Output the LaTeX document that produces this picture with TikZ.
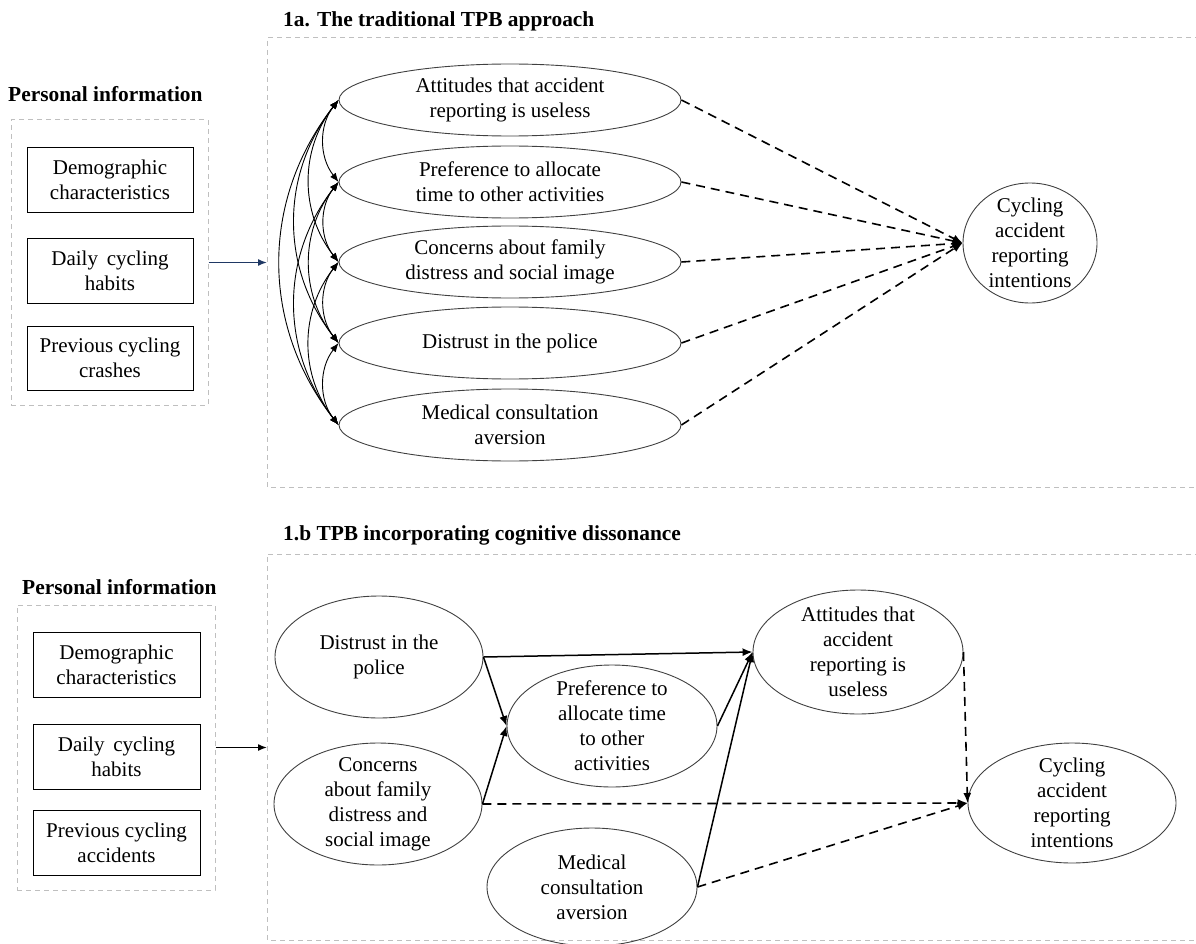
\documentclass[tikz,border=0pt]{standalone}
\usepackage{fontspec}
\setmainfont{Liberation Serif}
\usetikzlibrary{shapes.geometric,arrows.meta}

\definecolor{navyarrow}{RGB}{31,56,100}

\tikzset{
  txt/.style={font=\fontsize{21}{25}\selectfont, align=center},
  heading/.style={font=\fontsize{21.4}{25}\selectfont\bfseries, anchor=base west, inner sep=0pt},
  infobox/.style={draw, line width=1pt, minimum width=166pt, minimum height=65pt, inner sep=0pt, txt},
  infoframe/.style={draw=black!25, dash pattern=on 5pt off 4pt, line width=1pt},
  oval/.style={ellipse, draw=black!75, line width=0.9pt, inner sep=0pt},
  link/.style={line width=1.5pt, -{Latex[length=10pt,width=8pt]}},
  dashlink/.style={link, line width=1.6pt, dash pattern=on 9pt off 6pt},
  corr/.style={line width=0.9pt, {Latex[length=9pt,width=7pt]}-{Latex[length=9pt,width=7pt]}},
}

\begin{document}
\begin{tikzpicture}[x=1pt, y=-1pt]
    \useasboundingbox (0,0) rectangle (1196,944);

    \begin{scope}
      \node[heading] (titleA) at (283,27) {1a. The traditional TPB approach};
      \draw[infoframe] (1200,38) -| (267,487) -- (1200,487);

      \node[heading] (pinfoA) at (8,102) {Personal information};
      \node[infoframe, minimum width=197pt, minimum height=285pt] (pA) at (109.5,262.5) {};
      \node[infobox] (demoA) at (110,180) {Demographic\\characteristics};
      \node[infobox] (dailyA) at (110,271) {Daily\, cycling\\habits};
      \node[infobox, minimum height=64pt] (prevA) at (110,358) {Previous cycling\\crashes};
      \coordinate (inA) at (267,262.5);
      \draw[line width=1.4pt, draw=navyarrow, -{Latex[length=9pt,width=7pt]}] (pA.east) -- (inA);

      \node[oval, minimum width=342pt, minimum height=72pt,
        label={[txt]center:Attitudes that accident\\reporting is useless}] (attA) at (510,100) {};
      \node[oval, minimum width=342pt, minimum height=72pt,
        label={[txt]center:Preference to allocate\\time to other activities}] (prefA) at (510,182) {};
      \node[oval, minimum width=342pt, minimum height=72pt,
        label={[txt]center:Concerns about family\\distress and social image}] (concA) at (510,262) {};
      \node[oval, minimum width=342pt, minimum height=72pt,
        label={[txt]center:Distrust in the police}] (distA) at (510,343) {};
      \node[oval, minimum width=342pt, minimum height=72pt,
        label={[txt]center:Medical consultation\\aversion}] (medA) at (510,425) {};
      \node[oval, minimum width=134pt, minimum height=120pt,
        label={[txt]center:Cycling\\accident\\reporting\\intentions}] (cycA) at (1030,243) {};

      \draw[corr] (attA.west) to[bend right=38] (prefA.west);
      \draw[corr] (attA.west) to[bend right=38] (concA.west);
      \draw[corr] (attA.west) to[bend right=38] (distA.west);
      \draw[corr] (attA.west) to[bend right=38] (medA.west);
      \draw[corr] (prefA.west) to[bend right=38] (concA.west);
      \draw[corr] (prefA.west) to[bend right=38] (distA.west);
      \draw[corr] (prefA.west) to[bend right=38] (medA.west);
      \draw[corr] (concA.west) to[bend right=38] (distA.west);
      \draw[corr] (concA.west) to[bend right=38] (medA.west);
      \draw[corr] (distA.west) to[bend right=38] (medA.west);

      \draw[dashlink] (attA.east) -- (cycA.west);
      \draw[dashlink] (prefA.east) -- (cycA.west);
      \draw[dashlink] (concA.east) -- (cycA.west);
      \draw[dashlink] (distA.east) -- (cycA.west);
      \draw[dashlink] (medA.east) -- (cycA.west);
    \end{scope}

    \begin{scope}
      \node[heading] (titleB) at (283,540) {1.b TPB incorporating cognitive dissonance};
      \draw[infoframe] (1200,554) -| (267,940) -- (1200,940);

      \node[heading] (pinfoB) at (22,594) {Personal information};
      \node[infoframe, minimum width=198pt, minimum height=285pt] (pB) at (116,747.5) {};
      \node[infobox, minimum width=167pt] (demoB) at (116.5,664.5) {Demographic\\characteristics};
      \node[infobox, minimum width=167pt] (dailyB) at (116.5,756.5) {Daily\, cycling\\habits};
      \node[infobox, minimum width=167pt] (prevB) at (116.5,842.5) {Previous cycling\\accidents};
      \coordinate (inB) at (267,747.5);
      \draw[line width=1.4pt, -{Latex[length=9pt,width=7pt]}] (pB.east) -- (inB);

      \node[oval, minimum width=208pt, minimum height=122pt,
        label={[txt]center:Distrust in the\\police}] (distB) at (379,657) {};
      \node[oval, minimum width=208pt, minimum height=122pt,
        label={[txt]center:Concerns\\about family\\distress and\\social image}] (concB) at (378,804) {};
      \node[oval, minimum width=210pt, minimum height=122pt,
        label={[txt]center:Preference to\\allocate time\\to other\\activities}] (prefB) at (612,726) {};
      \node[oval, minimum width=210pt, minimum height=118pt,
        label={[txt]center:Medical\\consultation\\aversion}] (medB) at (592,887) {};
      \node[oval, minimum width=210pt, minimum height=124pt,
        label={[txt]center:Attitudes that\\accident\\reporting is\\useless}] (attB) at (858,652) {};
      \node[oval, minimum width=208pt, minimum height=120pt,
        label={[txt]center:Cycling\\accident\\reporting\\intentions}] (cycB) at (1072,803) {};

      \draw[link] (distB.east) -- (attB.west);
      \draw[link] (distB.east) -- (prefB.west);
      \draw[link] (concB.east) -- (prefB.west);
      \draw[link] (prefB.east) -- (attB.west);
      \draw[link] (medB.east) -- (attB.west);
      \draw[dashlink] (concB.east) -- (cycB.west);
      \draw[dashlink] (medB.east) -- (cycB.west);
      \draw[dashlink] (attB.east) -- (cycB.west);
    \end{scope}
  \end{tikzpicture}
\end{document}
